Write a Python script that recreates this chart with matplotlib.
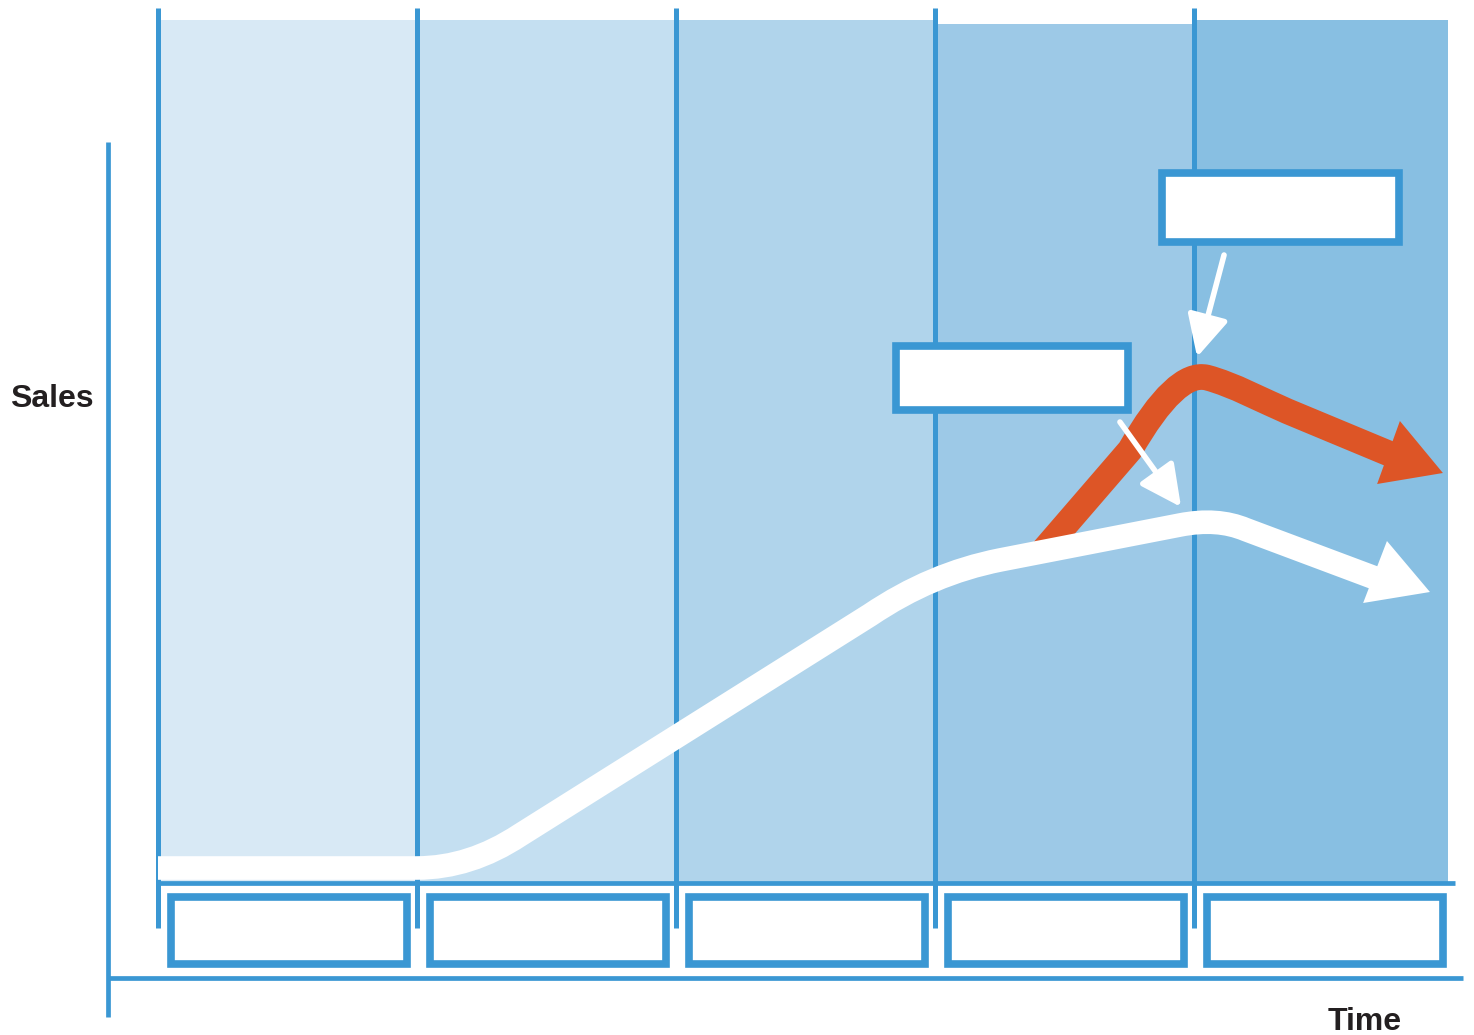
import matplotlib.pyplot as plt
from matplotlib.path import Path
from matplotlib.patches import PathPatch, Polygon, Rectangle

# stages along the time axis (stage units)
stage_edges = [0, 1, 2, 3, 4]
stage_end = 4.98
stage_tops = [212, 212, 212, 211, 212]
stage_colors = ['#D8E9F5', '#C4DFF1', '#B0D4EB', '#9DC9E7', '#88BFE2']

# market sales curve (white): time, sales, path code
market_t = [0, 1, 1.205, 1.398, 2.749, 2.985, 3.251, 3.946, 4.09, 4.20, 4.699]
market_s = [0, 0, 0, 8.25, 63.25, 73.6, 77, 85.75, 87.6, 84.6, 72.5]
market_codes = ['M', 'L', 'C', 'C', 'L', 'C', 'C', 'L', 'C', 'C', 'L']
market_head_t = [4.911, 4.745, 4.653]
market_head_s = [69, 81.75, 66.25]

# product sales curve (orange)
product_t = [3.42, 3.753, 3.93, 4.05, 4.15, 4.27, 4.36, 4.757]
product_s = [79.5, 104.5, 124.5, 122.6, 120.9, 116.7, 114.2, 103.5]
product_codes = ['M', 'L', 'C', 'C', 'B', 'B', 'B', 'L']
product_head_t = [4.961, 4.795, 4.707]
product_head_s = [98.75, 111.75, 96]

# callout arrows: (from_t, from_s, to_t, to_s)
callouts = [(3.714, 111.5, 3.950, 90.25), (4.116, 153.25, 4.012, 127.75)]

blue = '#3A97D3'
orange = '#DD5526'
code_map = {'M': Path.MOVETO, 'L': Path.LINETO, 'C': Path.CURVE3, 'B': Path.CURVE4}

fig = plt.figure(figsize=(14.74, 10.35), dpi=100)
ax = fig.add_axes([0, 0, 1, 1])
ax.set_xlim(-158 / 259, (1474 - 158) / 259)
ax.set_ylim((868 - 1035) / 4, 868 / 4)
ax.axis('off')

# stage backgrounds
rights = stage_edges[1:] + [stage_end]
for left, right, top, c in zip(stage_edges, rights, stage_tops, stage_colors):
    ax.add_patch(Rectangle((left, -3.75), right - left, top + 3.75,
                           facecolor=c, edgecolor='none', zorder=1))

# stage divider lines and baseline
for e in stage_edges:
    ax.plot([e, e], [215, -15], color=blue, lw=3.6, solid_capstyle='butt', zorder=2)
ax.plot([0, 5.008], [-3.75, -3.75], color=blue, lw=3.4, solid_capstyle='butt', zorder=2)

# stage label boxes
for e in stage_edges:
    ax.add_patch(Rectangle((e + 0.05, -23.875), 0.91, 16.75, facecolor='white',
                           edgecolor=blue, lw=5.5, zorder=2))

# outer axes
ax.plot([-0.193, -0.193], [181.5, -37.25], color=blue, lw=3.4, solid_capstyle='butt')
ax.plot([-0.193, 5.039], [-27.5, -27.5], color=blue, lw=3.4, solid_capstyle='butt')


def curve(ts, ss, codes, color, lw, z):
    path = Path(list(zip(ts, ss)), [code_map[c] for c in codes])
    ax.add_patch(PathPatch(path, facecolor='none', edgecolor=color, lw=lw,
                           capstyle='butt', joinstyle='round', zorder=z))


curve(product_t, product_s, product_codes, orange, 18.5, 3)
ax.add_patch(Polygon(list(zip(product_head_t, product_head_s)), closed=True,
                     facecolor=orange, edgecolor='none', zorder=3))
curve(market_t, market_s, market_codes, 'white', 17, 4)
ax.add_patch(Polygon(list(zip(market_head_t, market_head_s)), closed=True,
                     facecolor='white', edgecolor='none', zorder=4))

# callout boxes
ax.add_patch(Rectangle((2.851, 114.4), 0.896, 16.0, facecolor='white',
                       edgecolor=blue, lw=5.5, zorder=5))
ax.add_patch(Rectangle((3.876, 156.5), 0.915, 17.25, facecolor='white',
                       edgecolor=blue, lw=5.5, zorder=5))

for t0, s0, t1, s1 in callouts:
    ax.annotate('', xy=(t1, s1), xytext=(t0, s0),
                arrowprops=dict(arrowstyle='-|>,head_length=0.6,head_width=0.3',
                                color='white', lw=4, mutation_scale=42,
                                shrinkA=0, shrinkB=0),
                zorder=6)

ax.text(-0.571, 117.25, 'Sales', ha='left', va='center', fontsize=23,
        fontweight='bold', family='Liberation Sans', color='#231F20')
ax.text(4.803, -38.5, 'Time', ha='right', va='center', fontsize=23,
        fontweight='bold', family='Liberation Sans', color='#231F20')

plt.savefig('out.png', dpi=100)
